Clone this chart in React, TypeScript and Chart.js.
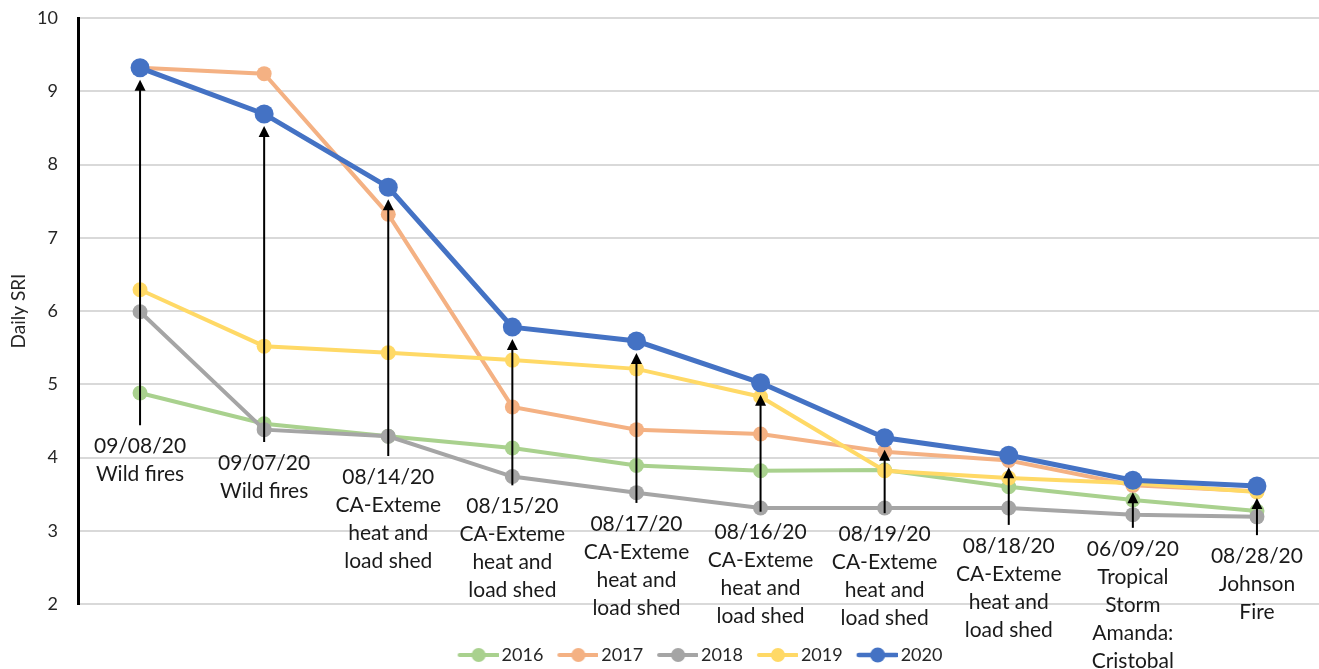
import React, { useEffect, useRef } from "react";
import { Chart, registerables } from "chart.js";

Chart.register(...registerables);

const categories = ["09/08/20", "09/07/20", "08/14/20", "08/15/20", "08/17/20", "08/16/20", "08/19/20", "08/18/20", "06/09/20", "08/28/20"];
const eventLabels: string[][] = [
  ["09/08/20", "Wild fires"],
  ["09/07/20", "Wild fires"],
  ["08/14/20", "CA-Exteme", "heat and", "load shed"],
  ["08/15/20", "CA-Exteme", "heat and", "load shed"],
  ["08/17/20", "CA-Exteme", "heat and", "load shed"],
  ["08/16/20", "CA-Exteme", "heat and", "load shed"],
  ["08/19/20", "CA-Exteme", "heat and", "load shed"],
  ["08/18/20", "CA-Exteme", "heat and", "load shed"],
  ["06/09/20", "Tropical", "Storm", "Amanda:", "Cristobal"],
  ["08/28/20", "Johnson", "Fire"],
];
const arrowBase = [4.44, 4.21, 4.02, 3.62, 3.38, 3.26, 3.24, 3.08, 3.04, 2.94];

const s2016 = [4.88, 4.46, 4.29, 4.13, 3.89, 3.82, 3.83, 3.6, 3.42, 3.27];
const s2017 = [9.32, 9.24, 7.32, 4.69, 4.38, 4.32, 4.08, 3.96, 3.62, 3.54];
const s2018 = [5.99, 4.38, 4.29, 3.74, 3.52, 3.31, 3.31, 3.31, 3.22, 3.19];
const s2019 = [6.29, 5.52, 5.43, 5.33, 5.21, 4.83, 3.82, 3.72, 3.65, 3.53];
const s2020 = [9.32, 8.69, 7.69, 5.78, 5.59, 5.02, 4.27, 4.03, 3.69, 3.61];

const seriesNames = ["2016", "2017", "2018", "2019", "2020"];
const seriesValues = [s2016, s2017, s2018, s2019, s2020];
const seriesColors = ["#A9D18E", "#F4B183", "#A5A5A5", "#FFD966", "#4472C4"];

const yTicks = [2, 3, 4, 5, 6, 7, 8, 9, 10];

function makeLegendImage(color: string, big: boolean): HTMLCanvasElement {
  const c = document.createElement("canvas");
  c.width = 50;
  c.height = 20;
  const g = c.getContext("2d")!;
  g.strokeStyle = color;
  g.lineWidth = big ? 4.5 : 4;
  g.lineCap = "round";
  g.beginPath();
  g.moveTo(11, 10);
  g.lineTo(49, 10);
  g.stroke();
  g.fillStyle = color;
  g.beginPath();
  g.arc(30, 10, big ? 7.5 : 7, 0, Math.PI * 2);
  g.fill();
  return c;
}

const annotationPlugin = {
  id: "eventArrows",
  afterDatasetsDraw(chart: any) {
    const { ctx } = chart;
    const xs = chart.scales.x;
    const ys = chart.scales.y;
    ctx.save();
    ctx.strokeStyle = "#000";
    ctx.fillStyle = "#000";
    ctx.lineWidth = 2;
    categories.forEach((_c, i) => {
      const x = xs.getPixelForValue(i);
      const yb = ys.getPixelForValue(arrowBase[i]);
      const yt = ys.getPixelForValue(s2020[i]) + 12;
      ctx.beginPath();
      ctx.moveTo(x, yb);
      ctx.lineTo(x, yt + 9);
      ctx.stroke();
      ctx.beginPath();
      ctx.moveTo(x, yt);
      ctx.lineTo(x - 5.5, yt + 11);
      ctx.lineTo(x + 5.5, yt + 11);
      ctx.closePath();
      ctx.fill();
    });
    ctx.restore();
  },
  afterDraw(chart: any) {
    const { ctx } = chart;
    const xs = chart.scales.x;
    const ys = chart.scales.y;
    ctx.save();
    ctx.font = "21px Lato";
    ctx.fillStyle = "#1a1a1a";
    ctx.textAlign = "center";
    ctx.textBaseline = "middle";
    eventLabels.forEach((lines, i) => {
      const x = xs.getPixelForValue(i);
      const y0 = ys.getPixelForValue(arrowBase[i]) + 21;
      lines.forEach((t, j) => ctx.fillText(t, x, y0 + j * 28));
    });
    ctx.restore();
  },
};

export default function App() {
  const ref = useRef<HTMLCanvasElement | null>(null);
  useEffect(() => {
    document.body.style.margin = "0";
    const images = seriesColors.map((c, i) => makeLegendImage(c, i === 4));
    const chart = new Chart(ref.current!, {
      type: "line",
      data: {
        labels: categories,
        datasets: seriesNames.map((name, i) => ({
          label: name,
          data: seriesValues[i],
          borderColor: seriesColors[i],
          backgroundColor: seriesColors[i],
          pointBackgroundColor: seriesColors[i],
          pointBorderColor: seriesColors[i],
          borderWidth: i === 4 ? 5 : 4,
          pointRadius: i === 4 ? 9.5 : 7.5,
          pointBorderWidth: 0,
          pointHoverRadius: i === 4 ? 9.5 : 7.5,
          tension: 0,
          clip: false,
          order: 5 - i,
        })),
      },
      options: {
        animation: false,
        responsive: true,
        maintainAspectRatio: false,
        layout: { autoPadding: false, padding: { top: 18, right: 0, left: 0, bottom: -5 } },
        scales: {
          x: {
            type: "category",
            offset: true,
            display: true,
            ticks: { display: false },
            grid: { display: false },
            border: { display: false },
            afterFit: (s: any) => {
              s.height = 31;
            },
          },
          y: {
            min: 2,
            max: 10,
            afterBuildTicks: (s: any) => {
              s.ticks = yTicks.map((v) => ({ value: v }));
            },
            afterFit: (s: any) => {
              s.width = 78;
              s.paddingTop = 0;
              s.paddingBottom = 0;
            },
            ticks: {
              padding: 20,
              color: "#262626",
              font: { family: "Lato", size: 18 },
            },
            grid: { color: "#D9D9D9", lineWidth: 2, drawTicks: false },
            border: { color: "#000", width: 3 },
            title: {
              display: true,
              text: "Daily SRI",
              color: "#262626",
              font: { family: "Lato", size: 19 },
              padding: { top: 7, bottom: 0 },
            },
          },
        },
        plugins: {
          tooltip: { enabled: false },
          legend: {
            position: "bottom",
            fullSize: false,
            labels: {
              usePointStyle: true,
              pointStyleWidth: 38,
              padding: 11,
              color: "#262626",
              font: { family: "Lato", size: 18 },
              sort: (a: any, b: any) => a.datasetIndex - b.datasetIndex,
              generateLabels: (ch: any) => {
                const items = (Chart.defaults.plugins.legend.labels as any).generateLabels(ch);
                return items.map((it: any) => ({ ...it, pointStyle: images[it.datasetIndex] }));
              },
            },
          },
        },
      },
      plugins: [annotationPlugin],
    });
    return () => chart.destroy();
  }, []);
  return (
    <div style={{ width: 1319, height: 669, position: "relative" }}>
      <canvas ref={ref} style={{ display: "block" }} />
    </div>
  );
}
